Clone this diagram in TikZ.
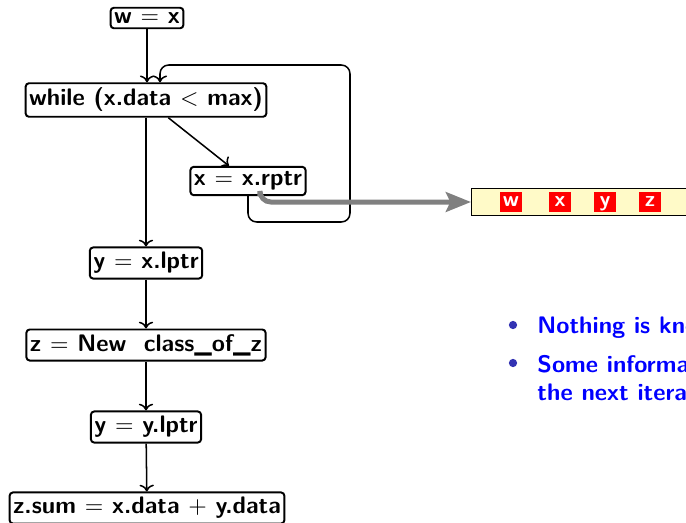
\documentclass[tikz,border=0pt]{standalone}
\usetikzlibrary{arrows.meta}
\definecolor{listyellow}{RGB}{255,250,200}
\definecolor{bulletblue}{RGB}{51,51,179}
\begin{document}
\begin{tikzpicture}[x=0.46pt,y=-0.46pt,
  stmt/.style={draw,line width=0.9pt,rounded corners=1.5pt,inner xsep=1.6pt,inner ysep=2.2pt,
    fill=white,font=\sffamily\bfseries\fontsize{11}{13}\selectfont},
  cell/.style={fill=red,text=white,font=\sffamily\bfseries,inner sep=0pt,
    minimum width=10.5pt,minimum height=9.6pt,text height=6pt,text depth=1.5pt},
  flow/.style={->,line width=0.7pt},
  remark/.style={anchor=base west,inner sep=0pt,text=blue,
    font=\sffamily\bfseries\fontsize{11}{13}\selectfont}]
  \useasboundingbox (0,0) rectangle (686,522);
  \clip (0,0) rectangle (686,522);
  % statements
  \node[stmt] (wx) at (147,18) {w $=$ x};
  \node[stmt] (while) at (146,100) {while (x.data $<$ max)};
  \node[stmt] (rptr) at (248,181) {x $=$ x.rptr};
  \node[stmt] (ylx) at (146,263) {y $=$ x.lptr};
  \node[stmt] (znew) at (146,345) {z $=$ New\ \ class\_of\_z};
  \node[stmt] (yly) at (146,427) {y $=$ y.lptr};
  \node[stmt] (zsum) at (147,508) {z.sum $=$ x.data $+$ y.data};
  \draw[flow] (wx) -- (wx |- while.north);
  \draw[flow] (while) -- (rptr);
  \draw[flow] (while) -- (ylx);
  \draw[flow] (ylx) -- (znew);
  \draw[flow] (znew) -- (yly);
  \draw[flow] (yly) -- (zsum);
  % back edge of the loop
  \coordinate (back) at (160,65);
  \draw[flow,rounded corners=4pt] (rptr.south) |- (350,222) |- (back) -- (back |- while.north);
  % the list of variables
  \node[draw,thin,fill=listyellow,anchor=west,minimum width=130pt,minimum height=12.8pt]
    (list) at (471,202) {};
  \node[cell] (cw) at (511,202) {w};
  \node[cell] (cx) at (560,202) {x};
  \node[cell] (cy) at (605,202) {y};
  \node[cell] (cz) at (650,202) {z};
  \draw[line width=2.3pt,gray,rounded corners=5pt,-{Stealth[length=11.5pt,width=9pt,inset=2pt]}]
    ([xshift=5.5pt]rptr.south) |- (list.west);
  % remarks
  \node[circle,fill=bulletblue,inner sep=0pt,minimum size=3.8pt] (b1) at (513,325) {};
  \node[remark] (t1) at (537,333) {Nothing is known};
  \node[circle,fill=bulletblue,inner sep=0pt,minimum size=3.8pt] (b2) at (513,363) {};
  \node[remark] (t2) at (537,372) {Some information};
  \node[remark] (t3) at (537,400) {the next iteration};
\end{tikzpicture}
\end{document}
